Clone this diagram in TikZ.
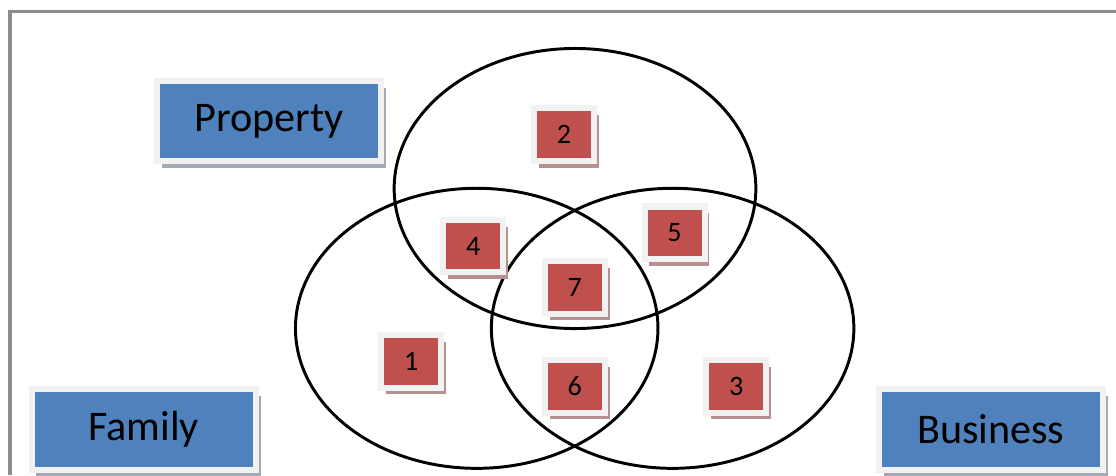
\documentclass[tikz,border=0pt]{standalone}
\usepackage{fontspec}
\setmainfont{Carlito}
\usetikzlibrary{shadows}

\definecolor{setblue}{HTML}{4F81BD}
\definecolor{numred}{HTML}{C0504D}
\definecolor{edgegray}{HTML}{F2F2F2}
\definecolor{blueshade}{HTML}{A3AAB6}
\definecolor{redshade}{HTML}{B99090}
\definecolor{framegray}{HTML}{8C8C8C}

\begin{document}
\begin{tikzpicture}[x=0.025cm, y=-0.025cm,
        setname/.style={rectangle, draw=edgegray, line width=0.15cm, fill=setblue, text centered, minimum width=5.6cm, minimum height=2cm, font=\fontsize{30}{34}\selectfont,
            drop shadow={shadow xshift=0.12cm, shadow yshift=-0.17cm, fill=blueshade, opacity=1}},
        region/.style={rectangle, draw=edgegray, line width=0.15cm, fill=numred, text centered, minimum width=1.5cm, minimum height=1.31cm, font=\fontsize{20}{22}\selectfont,
            drop shadow={shadow xshift=0.12cm, shadow yshift=-0.17cm, fill=redshade, opacity=1}},
        ring/.style={draw, line width=2.1pt}]

    \useasboundingbox (0,0) rectangle (1116,475);

    % frame
    \draw [framegray, line width=0.075cm] (1116,11) -- (10,11) -- (10,475);

    % the three sets
    \draw [ring] (575,188.5) ellipse [x radius=4.52cm, y radius=3.5cm];
    \draw [ring] (476.7,328.3) ellipse [x radius=4.53cm, y radius=3.5cm];
    \draw [ring] (672.6,328.3) ellipse [x radius=4.53cm, y radius=3.5cm];

    % set names
    \node (property) [setname] at (269,121) {Property};
    \node (family) [setname] at (143.7,429.5) {Family};
    \node (business) [setname] at (990.8,429.5) {Business};

    % regions
    \node (r1) [region] at (411.3,361.3) {1};
    \node (r2) [region] at (564,134.7) {2};
    \node (r3) [region] at (736.2,386.3) {3};
    \node (r4) [region] at (473.3,246) {4};
    \node (r5) [region] at (674.5,232.7) {5};
    \node (r6) [region] at (574.7,386.3) {6};
    \node (r7) [region] at (574.7,287.3) {7};

\end{tikzpicture}
\end{document}
